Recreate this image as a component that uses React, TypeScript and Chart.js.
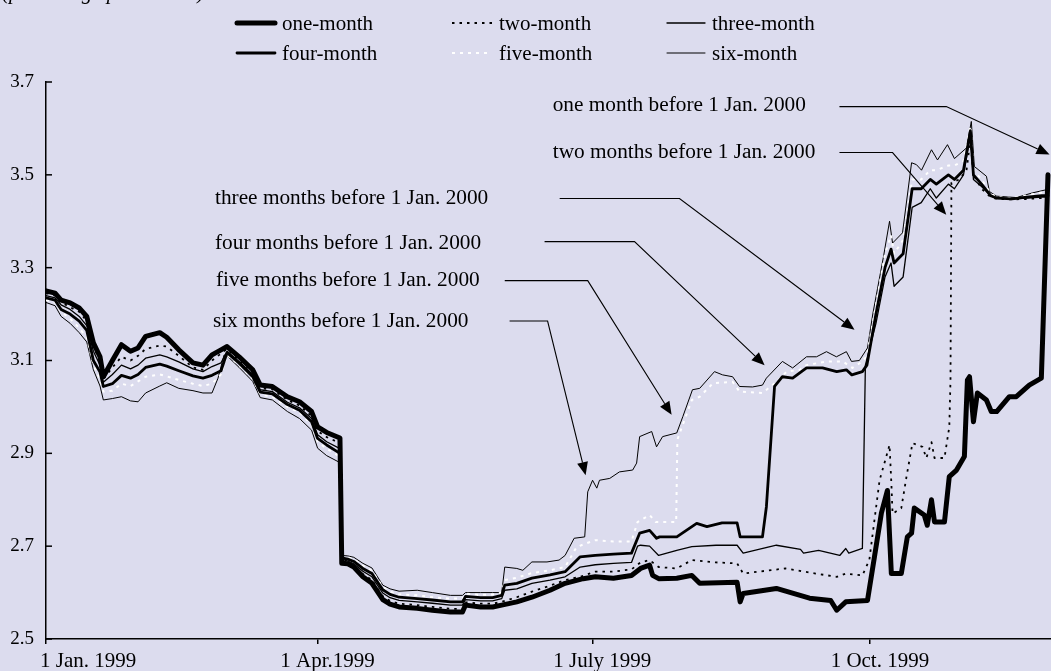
import React, { useEffect, useRef } from "react";
import { Chart, registerables } from "chart.js";

Chart.register(...registerables);

const FONT = "'Liberation Serif', 'Times New Roman', serif";
const BG = "#dcdcee";

// x values are days counted from 1 Jan. 1999
const xTickDays = [0, 90, 181, 273];
const xTickLabels = ["1 Jan. 1999", "1 Apr.1999", "1 July 1999", "1 Oct. 1999"];
const yTickValues = [2.5, 2.7, 2.9, 3.1, 3.3, 3.5, 3.7];
const seriesNames = ["one-month", "two-month", "three-month", "four-month", "five-month", "six-month"];
const caption = "(percentage per annum)";

const oneMonth = [
  [0, 3.25], [3, 3.245], [5, 3.23], [8, 3.224], [11, 3.213], [13.5, 3.195], [15.7, 3.138], [17.9, 3.108], [19, 3.065], [22, 3.1],
  [25, 3.134], [28, 3.12], [30.5, 3.127], [33, 3.152], [37.7, 3.16], [40, 3.15], [44, 3.123], [48.7, 3.095], [52, 3.09], [55, 3.112],
  [58, 3.123], [60, 3.13], [64, 3.108], [68.5, 3.08], [71, 3.047], [75, 3.044], [80, 3.022], [84, 3.011], [88, 2.99], [90, 2.957],
  [93, 2.945], [97.4, 2.933], [98, 2.663], [100, 2.662], [102, 2.655], [105, 2.634], [108, 2.62], [111.6, 2.585], [114, 2.575], [117, 2.569],
  [123, 2.566], [128, 2.562], [134, 2.558], [138, 2.558], [139, 2.573], [144, 2.569], [148, 2.569], [151, 2.573], [156, 2.58], [161, 2.59],
  [167, 2.605], [172, 2.62], [178, 2.63], [182, 2.634], [188, 2.631], [194, 2.637], [197, 2.652], [200, 2.659], [201, 2.637], [203, 2.63],
  [209, 2.631], [214, 2.637], [216.6, 2.62], [229, 2.622], [230, 2.58], [231, 2.598], [242, 2.609], [253, 2.588], [260, 2.583], [262, 2.562],
  [265, 2.58], [272.2, 2.583], [274.5, 2.677], [276.8, 2.771], [278.8, 2.82], [280.1, 2.641], [283.4, 2.641], [285.4, 2.72], [286.8, 2.728], [287.7, 2.782],
  [291, 2.767], [292, 2.745], [293.4, 2.8], [294.4, 2.752], [297.7, 2.752], [299.3, 2.85], [301.7, 2.864], [304.3, 2.893], [305.3, 3.058], [306, 3.065],
  [307.3, 2.968], [308.6, 3.03], [311.6, 3.015], [313.2, 2.99], [315, 2.99], [319.2, 3.022], [321.5, 3.022], [325.8, 3.047], [329.8, 3.062], [332, 3.5],
];

const twoMonth = [
  [0, 3.245], [3, 3.24], [5, 3.225], [8, 3.215], [11, 3.205], [13.5, 3.185], [15.7, 3.13], [17.9, 3.1], [19, 3.06], [22, 3.085],
  [25, 3.108], [28, 3.1], [30.5, 3.11], [33, 3.125], [37.7, 3.132], [40, 3.13], [44, 3.11], [48.7, 3.085], [52, 3.08], [55, 3.1],
  [58, 3.115], [60, 3.125], [64, 3.1], [68.5, 3.075], [71, 3.04], [75, 3.038], [80, 3.015], [84, 3.003], [88, 2.98], [90, 2.948],
  [93, 2.935], [97.4, 2.922], [98, 2.668], [100, 2.664], [102, 2.657], [105, 2.64], [108, 2.627], [111.6, 2.592], [114, 2.582], [117, 2.576],
  [123, 2.573], [128, 2.569], [134, 2.565], [138, 2.565], [139, 2.579], [144, 2.576], [148, 2.576], [151, 2.58], [156, 2.59], [161, 2.602],
  [167, 2.615], [172, 2.627], [177, 2.634], [182, 2.645], [188, 2.645], [194, 2.65], [197, 2.665], [200, 2.67], [203, 2.655], [209, 2.652],
  [214, 2.67], [222, 2.665], [229, 2.663], [231, 2.641], [236, 2.645], [245, 2.652], [255, 2.641], [262, 2.634], [265, 2.641], [270.5, 2.637],
  [272.8, 2.67], [276.2, 2.842], [279.5, 2.918], [280.1, 2.836], [280.5, 2.77], [283.4, 2.782], [285.1, 2.849], [287.1, 2.922], [290.4, 2.914], [291.7, 2.89],
  [293.4, 2.924], [294.4, 2.89], [297.7, 2.89], [299.3, 2.957], [299.7, 3.058], [300, 3.483], [302.6, 3.49], [305, 3.51], [306.3, 3.575], [307.3, 3.5],
  [310, 3.47], [313, 3.452], [315, 3.448], [320, 3.447], [325, 3.448], [330, 3.45], [332, 3.452],
];

const threeMonth = [
  [0, 3.24], [3, 3.235], [5, 3.22], [8, 3.21], [11, 3.195], [13.5, 3.175], [15.7, 3.12], [17.9, 3.09], [19, 3.053], [22, 3.07],
  [25, 3.09], [28, 3.082], [30.5, 3.09], [33, 3.105], [37.7, 3.112], [40, 3.108], [44, 3.097], [48.7, 3.082], [52, 3.076], [55, 3.087],
  [58, 3.095], [60, 3.12], [64, 3.098], [68.5, 3.07], [71, 3.037], [75, 3.033], [80, 3.01], [84, 2.998], [88, 2.975], [90, 2.94],
  [93, 2.925], [97.4, 2.91], [98, 2.672], [100, 2.668], [102, 2.662], [105, 2.646], [108, 2.634], [111.6, 2.599], [114, 2.589], [117, 2.583],
  [123, 2.58], [128, 2.577], [134, 2.573], [138, 2.573], [139, 2.585], [144, 2.582], [148, 2.582], [151, 2.587], [152, 2.605], [156, 2.608],
  [161, 2.62], [167, 2.627], [172, 2.634], [177, 2.655], [182, 2.66], [188, 2.663], [194, 2.665], [196, 2.7], [197, 2.702], [200, 2.7],
  [203, 2.68], [209, 2.691], [214, 2.699], [222, 2.702], [229, 2.702], [231, 2.685], [242, 2.702], [250, 2.693], [251, 2.685], [256, 2.691],
  [263, 2.68], [265, 2.695], [266, 2.685], [270.5, 2.695], [271.5, 3.09], [275, 3.18], [278, 3.28], [280, 3.31], [281, 3.26], [284, 3.28],
  [287, 3.43], [290, 3.44], [293, 3.47], [295, 3.45], [299, 3.48], [301, 3.47], [304, 3.5], [306.3, 3.585], [307.3, 3.49], [310, 3.475],
  [313, 3.455], [315, 3.45], [320, 3.448], [325, 3.45], [330, 3.452], [332, 3.452],
];

const fourMonth = [
  [0, 3.235], [3, 3.23], [5, 3.21], [8, 3.2], [11, 3.185], [13.5, 3.165], [15.7, 3.1], [17.9, 3.075], [19, 3.044], [22, 3.05],
  [25, 3.068], [28, 3.062], [30.5, 3.07], [33, 3.085], [37.7, 3.092], [40, 3.088], [44, 3.078], [48.7, 3.067], [52, 3.062], [55, 3.068],
  [58, 3.078], [60, 3.117], [64, 3.094], [68.5, 3.065], [71, 3.032], [75, 3.028], [80, 3.005], [84, 2.993], [88, 2.968], [90, 2.932],
  [93, 2.918], [97.4, 2.9], [98, 2.675], [100, 2.672], [102, 2.667], [105, 2.652], [108, 2.641], [111.6, 2.606], [114, 2.596], [117, 2.59],
  [123, 2.587], [128, 2.584], [134, 2.58], [138, 2.58], [139, 2.592], [144, 2.589], [148, 2.589], [151, 2.594], [152, 2.616], [156, 2.62],
  [161, 2.631], [167, 2.638], [172, 2.645], [177, 2.677], [182, 2.68], [188, 2.683], [194, 2.685], [196.7, 2.728], [200, 2.734], [202.3, 2.717],
  [203.3, 2.72], [209, 2.72], [215.6, 2.749], [219, 2.742], [224, 2.75], [229, 2.75], [230, 2.72], [237.4, 2.72], [238.7, 2.785], [241.4, 3.044],
  [244, 3.065], [247.4, 3.062], [252, 3.084], [257.3, 3.084], [262, 3.076], [265.2, 3.08], [267, 3.069], [270.5, 3.076], [272, 3.09], [275, 3.2],
  [278, 3.3], [280, 3.34], [281, 3.31], [284, 3.33], [287, 3.47], [290, 3.47], [293, 3.49], [295, 3.48], [299, 3.5], [301, 3.49],
  [304, 3.51], [306.3, 3.595], [307.3, 3.5], [310, 3.48], [313, 3.455], [315, 3.45], [320, 3.448], [325, 3.452], [330, 3.455], [332, 3.455],
];

const fiveMonth = [
  [0, 3.23], [3, 3.225], [5, 3.205], [8, 3.19], [11, 3.17], [13.5, 3.15], [15.7, 3.09], [17.9, 3.06], [19, 3.033], [22, 3.035],
  [25, 3.05], [28, 3.045], [30.5, 3.055], [33, 3.065], [37.7, 3.07], [40, 3.066], [44, 3.058], [48.7, 3.05], [52, 3.045], [55, 3.05],
  [58, 3.07], [60, 3.112], [64, 3.09], [68.5, 3.06], [71, 3.027], [75, 3.022], [80, 3.0], [84, 2.988], [88, 2.962], [90, 2.925],
  [93, 2.91], [97.4, 2.893], [98, 2.678], [100, 2.676], [102, 2.672], [105, 2.658], [108, 2.647], [111.6, 2.612], [114, 2.602], [117, 2.596],
  [123, 2.594], [128, 2.59], [134, 2.587], [138, 2.587], [139, 2.598], [144, 2.595], [148, 2.596], [151, 2.6], [152, 2.627], [156, 2.632],
  [161, 2.642], [167, 2.648], [172, 2.655], [175.8, 2.698], [179, 2.706], [182, 2.713], [188, 2.71], [194, 2.71], [196, 2.752], [200, 2.767],
  [202, 2.752], [208.8, 2.752], [209.2, 2.929], [210, 2.944], [214, 3.015], [216.6, 3.022], [221, 3.051], [227.5, 3.054], [229.8, 3.033], [237.4, 3.03],
  [242, 3.054], [245.4, 3.076], [249.7, 3.08], [252, 3.09], [258.6, 3.098], [264, 3.098], [267.2, 3.084], [270.5, 3.098], [272, 3.11], [275, 3.22],
  [278, 3.33], [280, 3.37], [281, 3.33], [284, 3.36], [287, 3.49], [290, 3.49], [293, 3.51], [295, 3.51], [299, 3.52], [301, 3.52],
  [304, 3.53], [306.3, 3.605], [307.3, 3.51], [310, 3.49], [313, 3.46], [315, 3.452], [320, 3.45], [325, 3.456], [330, 3.462], [332, 3.47],
];

const sixMonth = [
  [0, 3.225], [3, 3.218], [5, 3.195], [8, 3.18], [11, 3.16], [13.5, 3.14], [15.7, 3.08], [17.9, 3.045], [19, 3.015], [22, 3.018],
  [25, 3.022], [28, 3.013], [30.5, 3.011], [33, 3.03], [37.7, 3.045], [40, 3.052], [44, 3.04], [48.7, 3.035], [52, 3.03], [55, 3.03],
  [57, 3.062], [59, 3.112], [60, 3.11], [64, 3.085], [68.5, 3.055], [71, 3.02], [75, 3.015], [80, 2.99], [84, 2.975], [88, 2.95],
  [90, 2.911], [93, 2.895], [97.4, 2.88], [98, 2.68], [100, 2.679], [102, 2.676], [105, 2.663], [108, 2.653], [111.6, 2.616], [114, 2.608],
  [117, 2.603], [123, 2.605], [128, 2.6], [134, 2.594], [138, 2.594], [139, 2.6], [144, 2.6], [148, 2.6], [151, 2.6], [152, 2.655],
  [156, 2.652], [158, 2.648], [161, 2.666], [166, 2.666], [170, 2.67], [172, 2.68], [175, 2.717], [178.5, 2.72], [179.5, 2.817], [181.1, 2.842],
  [182.5, 2.825], [183.4, 2.842], [186.8, 2.846], [190, 2.86], [194.4, 2.864], [195.7, 2.879], [196.7, 2.936], [200.7, 2.947], [202.3, 2.914], [204.3, 2.936],
  [209, 2.944], [211, 2.979], [214.2, 3.037], [216.6, 3.04], [221.5, 3.076], [224.2, 3.069], [227.5, 3.065], [229.8, 3.044], [234.1, 3.043], [237.4, 3.047],
  [238.7, 3.062], [244, 3.098], [247.4, 3.084], [252, 3.108], [255.3, 3.108], [258.6, 3.119], [261.9, 3.108], [265.2, 3.119], [266.9, 3.098], [269.5, 3.1],
  [272.2, 3.127], [274, 3.202], [277.5, 3.324], [279.5, 3.4], [280.5, 3.353], [283.8, 3.375], [286.8, 3.526], [288.4, 3.522], [290.1, 3.51], [293.4, 3.554],
  [295.4, 3.532], [298.7, 3.565], [301, 3.535], [305, 3.558], [306.6, 3.615], [307.6, 3.518], [311.6, 3.497], [312.6, 3.464], [315, 3.454], [321.5, 3.451],
  [326.8, 3.461], [331.5, 3.468],
];

const annotationTexts = [
  "one month before 1 Jan. 2000",
  "two months before 1 Jan. 2000",
  "three months before 1 Jan. 2000",
  "four months before 1 Jan. 2000",
  "five months before 1 Jan. 2000",
  "six months before 1 Jan. 2000",
];
// text anchors (day, rate) at the text baseline start
const annotationTextAt = [
  [167.9, 3.637], [167.9, 3.537], [56, 3.438], [56, 3.341], [56.3, 3.261], [55.3, 3.173],
];
// connector paths: start, bend, arrow tip (day, rate)
const annotationPaths = [
  [[262.9, 3.647], [298.3, 3.647], [332.5, 3.544]],
  [[262.9, 3.548], [280.5, 3.548], [298.3, 3.414]],
  [[170.2, 3.449], [209.9, 3.449], [267.9, 3.166]],
  [[165.2, 3.356], [195, 3.356], [238.1, 3.09]],
  [[152, 3.272], [179.5, 3.272], [207.3, 2.983]],
  [[153.6, 3.185], [166.2, 3.185], [178.8, 2.853]],
];

const seriesData = [oneMonth, twoMonth, threeMonth, fourMonth, fiveMonth, sixMonth];
const seriesStyles = [
  { color: "#000", width: 5, dash: [] as number[] },
  { color: "#000", width: 1.8, dash: [2.5, 5] },
  { color: "#000", width: 1.3, dash: [] as number[] },
  { color: "#000", width: 2.8, dash: [] as number[] },
  { color: "#fff", width: 2, dash: [3, 5] },
  { color: "#000", width: 1, dash: [] as number[] },
];

const decorPlugin = {
  id: "decor",
  beforeDraw(chart: any) {
    const ctx = chart.ctx;
    ctx.save();
    ctx.fillStyle = BG;
    ctx.fillRect(0, 0, chart.width, chart.height);
    ctx.restore();
  },
  afterDraw(chart: any) {
    const { ctx, chartArea } = chart;
    const x = chart.scales.x;
    const y = chart.scales.y;
    ctx.save();

    // inward y tick marks
    ctx.strokeStyle = "#000";
    ctx.lineWidth = 1.5;
    yTickValues.forEach((v) => {
      const py = y.getPixelForValue(v);
      ctx.beginPath();
      ctx.moveTo(chartArea.left, py);
      ctx.lineTo(chartArea.left + 6, py);
      ctx.stroke();
    });

    // x tick labels
    ctx.fillStyle = "#000";
    ctx.font = `21px ${FONT}`;
    ctx.textBaseline = "alphabetic";
    xTickDays.forEach((d, i) => {
      const px = x.getPixelForValue(d);
      if (i === 0) {
        ctx.textAlign = "left";
        ctx.fillText(xTickLabels[i], px - 6, 667);
      } else {
        ctx.textAlign = "center";
        ctx.fillText(xTickLabels[i], px + 10, 667);
      }
    });

    // caption (top-left, partly cut)
    ctx.font = `italic 21px ${FONT}`;
    ctx.textAlign = "left";
    ctx.fillText(caption, 2, -1);

    // legend
    const cols = [235, 452, 665];
    const rows = [23, 53];
    ctx.font = `21px ${FONT}`;
    seriesNames.forEach((name, i) => {
      const cx = cols[i % 3];
      const ry = rows[Math.floor(i / 3)];
      const st = seriesStyles[i];
      ctx.save();
      ctx.strokeStyle = st.color;
      ctx.lineWidth = st.width;
      ctx.setLineDash(st.dash);
      ctx.lineCap = st.dash.length ? "butt" : "round";
      ctx.beginPath();
      ctx.moveTo(cx + (st.dash.length ? 0 : 2), ry);
      ctx.lineTo(cx + 40, ry);
      ctx.stroke();
      ctx.restore();
      ctx.fillStyle = "#000";
      ctx.textAlign = "left";
      ctx.fillText(name, cx + 47, ry + 7);
    });

    // annotations
    ctx.font = `21.3px ${FONT}`;
    ctx.fillStyle = "#000";
    annotationTexts.forEach((t, i) => {
      const [d, r] = annotationTextAt[i];
      ctx.fillText(t, x.getPixelForValue(d), y.getPixelForValue(r));
    });
    ctx.strokeStyle = "#000";
    ctx.lineWidth = 1.1;
    annotationPaths.forEach((path) => {
      const pts = path.map(([d, r]) => [x.getPixelForValue(d), y.getPixelForValue(r)]);
      const [tx, ty] = pts[pts.length - 1];
      const [bx, by] = pts[pts.length - 2];
      const ang = Math.atan2(ty - by, tx - bx);
      const headLen = 13;
      const headHalf = 5.5;
      const baseX = tx - headLen * Math.cos(ang);
      const baseY = ty - headLen * Math.sin(ang);
      ctx.beginPath();
      ctx.moveTo(pts[0][0], pts[0][1]);
      for (let k = 1; k < pts.length - 1; k++) ctx.lineTo(pts[k][0], pts[k][1]);
      ctx.lineTo(baseX, baseY);
      ctx.stroke();
      ctx.beginPath();
      ctx.moveTo(tx, ty);
      ctx.lineTo(baseX + headHalf * Math.sin(ang), baseY - headHalf * Math.cos(ang));
      ctx.lineTo(baseX - headHalf * Math.sin(ang), baseY + headHalf * Math.cos(ang));
      ctx.closePath();
      ctx.fill();
    });

    ctx.restore();
  },
};

export default function App() {
  const canvasRef = useRef<HTMLCanvasElement | null>(null);

  useEffect(() => {
    const canvas = canvasRef.current;
    if (!canvas) return;
    const datasets = seriesData.map((series, i) => ({
      label: seriesNames[i],
      data: series.map(([d, r]) => ({ x: d, y: r })),
      borderColor: seriesStyles[i].color,
      borderWidth: seriesStyles[i].width,
      borderDash: seriesStyles[i].dash,
      borderJoinStyle: "round" as const,
      borderCapStyle: (seriesStyles[i].dash.length ? "butt" : "round") as any,
      pointRadius: 0,
      tension: 0,
      fill: false,
    }));
    const chart = new Chart(canvas, {
      type: "line",
      data: { datasets },
      options: {
        responsive: false,
        animation: false,
        devicePixelRatio: 1,
        layout: { padding: { top: 82, right: 0, bottom: 0, left: 0 } },
        plugins: {
          legend: { display: false },
          tooltip: { enabled: false },
          title: { display: false },
        },
        elements: { point: { radius: 0 }, line: { tension: 0 } },
        scales: {
          x: {
            type: "linear",
            min: 0,
            max: 333,
            afterBuildTicks: (s: any) => {
              s.ticks = xTickDays.map((v) => ({ value: v }));
            },
            afterFit: (s: any) => {
              s.height = 32;
            },
            ticks: { display: false },
            grid: {
              display: true,
              drawOnChartArea: false,
              drawTicks: true,
              tickLength: 5,
              color: "#000",
              lineWidth: 1.5,
            },
            border: { display: true, color: "#000", width: 1.5 },
          },
          y: {
            type: "linear",
            min: 2.5,
            max: 3.7,
            afterBuildTicks: (s: any) => {
              s.ticks = yTickValues.map((v) => ({ value: v }));
            },
            afterFit: (s: any) => {
              s.width = 46;
            },
            ticks: {
              callback: (v: any) => Number(v).toFixed(1),
              color: "#000",
              font: { family: FONT, size: 19 },
              padding: 12,
            },
            grid: { display: false, drawTicks: false },
            border: { display: true, color: "#000", width: 1.5 },
          },
        },
      } as any,
      plugins: [decorPlugin],
    });
    return () => chart.destroy();
  }, []);

  return (
    <div style={{ position: "fixed", left: 0, top: 0, width: 1051, height: 671, background: BG }}>
      <canvas ref={canvasRef} width={1051} height={671} style={{ display: "block" }} />
    </div>
  );
}
